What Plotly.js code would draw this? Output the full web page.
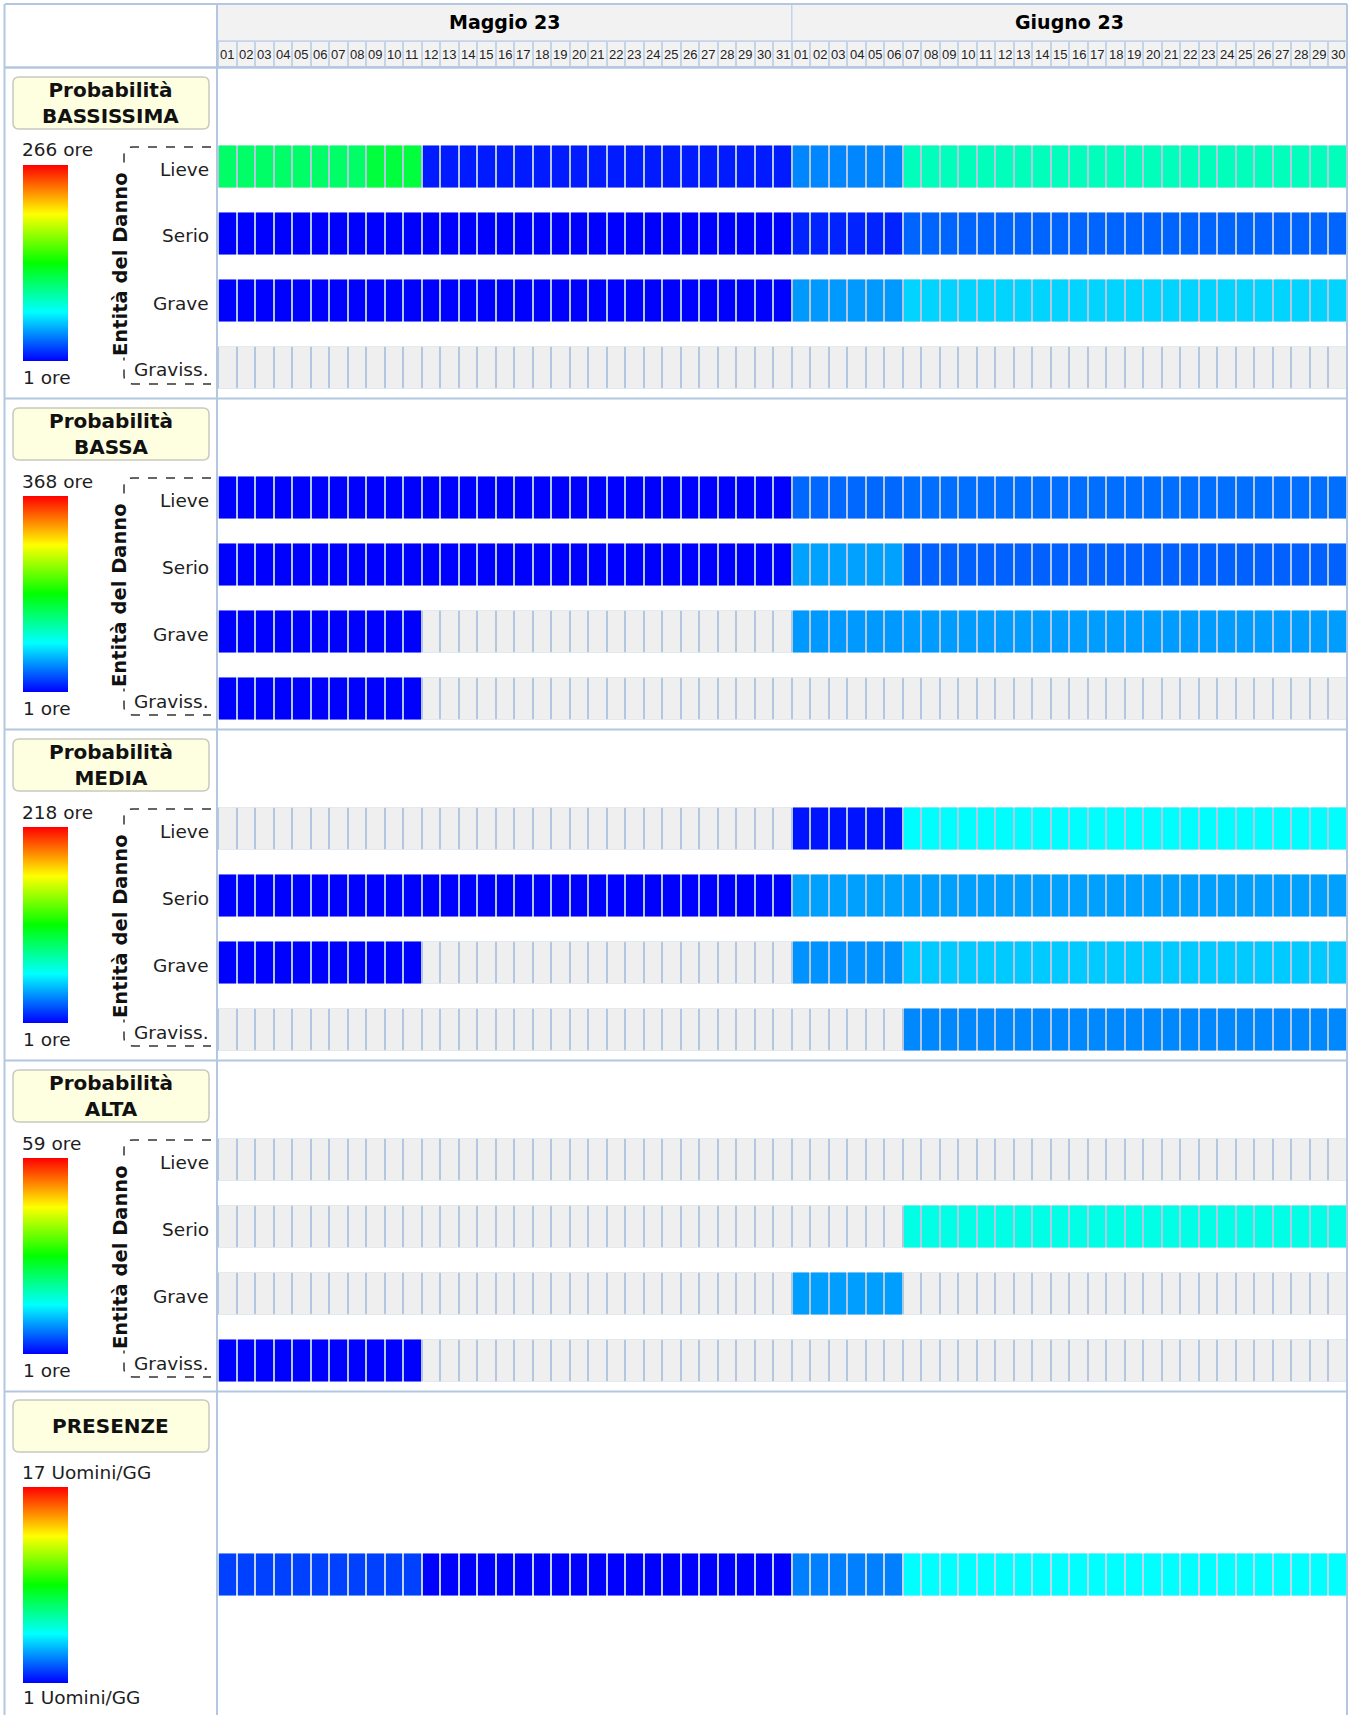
<!DOCTYPE html>
<html><head><meta charset="utf-8">
<script src="https://cdn.plot.ly/plotly-3.0.1.min.js"></script>
<style>html,body{margin:0;padding:0;background:#fff;} #chart{width:1357px;height:1715px;}</style>
</head><body><div id="chart"></div>
<script>
// ---------------- DATA ----------------
const months = ['Maggio 23', 'Giugno 23'];
const mayDays = ['01','02','03','04','05','06','07','08','09','10','11','12','13','14','15','16','17','18','19','20','21','22','23','24','25','26','27','28','29','30','31'];
const junDays = ['01','02','03','04','05','06','07','08','09','10','11','12','13','14','15','16','17','18','19','20','21','22','23','24','25','26','27','28','29','30'];
const damageLevels = ['Lieve', 'Serio', 'Grave', 'Graviss.'];
const damageAxisTitle = 'Entità del Danno';
const sectionTitles = ['Probabilità<br>BASSISSIMA', 'Probabilità<br>BASSA', 'Probabilità<br>MEDIA', 'Probabilità<br>ALTA'];
const sectionMax = [266, 368, 218, 59];
const sectionMin = [1, 1, 1, 1];
const sectionUnit = 'ore';
const presenzeTitle = 'PRESENZE';
const presenzeMax = 17;
const presenzeMin = 1;
const presenzeUnit = 'Uomini/GG';
const _ = null;

// hours per day (May 1..31, June 1..30); null = no value
const bassissima_lieve = [107,107,107,107,107,107,107,107,118,118,118,
  8,8,8,8,8,8,8,8,8,8, 8,8,8,8,8,8,8,8,8,8,
  36,36,36,36,36,36,
  85,85,85,85,85,85,85,85,85,85,85,85, 85,85,85,85,85,85,85,85,85,85,85,85];
const bassissima_serio = [1,1,1,1,1,1,1,1,1,1,1,
  1,1,1,1,1,1,1,1,1,1, 1,1,1,1,1,1,1,1,1,1,
  10,10,10,10,10,10,
  27,27,27,27,27,27,27,27,27,27,27,27, 27,27,27,27,27,27,27,27,27,27,27,27];
const bassissima_grave = [1,1,1,1,1,1,1,1,1,1,1,
  1,1,1,1,1,1,1,1,1,1, 1,1,1,1,1,1,1,1,1,1,
  41,41,41,41,41,41,
  56,56,56,56,56,56,56,56,56,56,56,56, 56,56,56,56,56,56,56,56,56,56,56,56];
const bassissima_graviss = [_,_,_,_,_,_,_,_,_,_,_,
  _,_,_,_,_,_,_,_,_,_, _,_,_,_,_,_,_,_,_,_,
  _,_,_,_,_,_,
  _,_,_,_,_,_,_,_,_,_,_,_, _,_,_,_,_,_,_,_,_,_,_,_];

const bassa_lieve = [1,1,1,1,1,1,1,1,1,1,1,
  1,1,1,1,1,1,1,1,1,1, 1,1,1,1,1,1,1,1,1,1,
  38,38,38,38,38,38,
  41,41,41,41,41,41,41,41,41,41,41,41, 41,41,41,41,41,41,41,41,41,41,41,41];
const bassa_serio = [1,1,1,1,1,1,1,1,1,1,1,
  1,1,1,1,1,1,1,1,1,1, 1,1,1,1,1,1,1,1,1,1,
  59,59,59,59,59,59,
  36,36,36,36,36,36,36,36,36,36,36,36, 36,36,36,36,36,36,36,36,36,36,36,36];
const bassa_grave = [1,1,1,1,1,1,1,1,1,1,1,
  _,_,_,_,_,_,_,_,_,_, _,_,_,_,_,_,_,_,_,_,
  56,56,56,56,56,56,
  57,57,57,57,57,57,57,57,57,57,57,57, 57,57,57,57,57,57,57,57,57,57,57,57];
const bassa_graviss = [1,1,1,1,1,1,1,1,1,1,1,
  _,_,_,_,_,_,_,_,_,_, _,_,_,_,_,_,_,_,_,_,
  _,_,_,_,_,_,
  _,_,_,_,_,_,_,_,_,_,_,_, _,_,_,_,_,_,_,_,_,_,_,_];

const media_lieve = [_,_,_,_,_,_,_,_,_,_,_,
  _,_,_,_,_,_,_,_,_,_, _,_,_,_,_,_,_,_,_,_,
  5,5,5,5,5,5,
  55,55,55,55,55,55,55,55,55,55,55,55, 55,55,55,55,55,55,55,55,55,55,55,55];
const media_serio = [1,1,1,1,1,1,1,1,1,1,1,
  1,1,1,1,1,1,1,1,1,1, 1,1,1,1,1,1,1,1,1,1,
  35,35,35,35,35,35,
  35,35,35,35,35,35,35,35,35,35,35,35, 35,35,35,35,35,35,35,35,35,35,35,35];
const media_grave = [1,1,1,1,1,1,1,1,1,1,1,
  _,_,_,_,_,_,_,_,_,_, _,_,_,_,_,_,_,_,_,_,
  32,32,32,32,32,32,
  44,44,44,44,44,44,44,44,44,44,44,44, 44,44,44,44,44,44,44,44,44,44,44,44];
const media_graviss = [_,_,_,_,_,_,_,_,_,_,_,
  _,_,_,_,_,_,_,_,_,_, _,_,_,_,_,_,_,_,_,_,
  _,_,_,_,_,_,
  30,30,30,30,30,30,30,30,30,30,30,30, 30,30,30,30,30,30,30,30,30,30,30,30];

const alta_lieve = [_,_,_,_,_,_,_,_,_,_,_,
  _,_,_,_,_,_,_,_,_,_, _,_,_,_,_,_,_,_,_,_,
  _,_,_,_,_,_,
  _,_,_,_,_,_,_,_,_,_,_,_, _,_,_,_,_,_,_,_,_,_,_,_];
const alta_serio = [_,_,_,_,_,_,_,_,_,_,_,
  _,_,_,_,_,_,_,_,_,_, _,_,_,_,_,_,_,_,_,_,
  _,_,_,_,_,_,
  17,17,17,17,17,17,17,17,17,17,17,17, 17,17,17,17,17,17,17,17,17,17,17,17];
const alta_grave = [_,_,_,_,_,_,_,_,_,_,_,
  _,_,_,_,_,_,_,_,_,_, _,_,_,_,_,_,_,_,_,_,
  10,10,10,10,10,10,
  _,_,_,_,_,_,_,_,_,_,_,_, _,_,_,_,_,_,_,_,_,_,_,_];
const alta_graviss = [1,1,1,1,1,1,1,1,1,1,1,
  _,_,_,_,_,_,_,_,_,_, _,_,_,_,_,_,_,_,_,_,
  _,_,_,_,_,_,
  _,_,_,_,_,_,_,_,_,_,_,_, _,_,_,_,_,_,_,_,_,_,_,_];

// workers per day
const presenze = [2,2,2,2,2,2,2,2,2,2,2,
  1,1,1,1,1,1,1,1,1,1, 1,1,1,1,1,1,1,1,1,1,
  3,3,3,3,3,3,
  5,5,5,5,5,5,5,5,5,5,5,5, 5,5,5,5,5,5,5,5,5,5,5,5];

// ---------------- DRAWING ----------------
const W = 1357, H = 1715;
const px = x => x / W;
const py = y => 1 - y / H;
const days = mayDays.concat(junDays);
const idx = days.map((d, i) => i);
const jet = [[0,'#0000ff'],[0.25,'#00ffff'],[0.5,'#00ff00'],[0.75,'#ffff00'],[1,'#ff0000']];
const BORDER = '#b4c7e0';
const GREY = '#efefef';
const F = 'DejaVu Sans, Verdana, sans-serif';
const FN = 'Liberation Sans Narrow, Arial Narrow, Liberation Sans, sans-serif';
const GAP = 2;

const sections = [
  [bassissima_lieve, bassissima_serio, bassissima_grave, bassissima_graviss],
  [bassa_lieve, bassa_serio, bassa_grave, bassa_graviss],
  [media_lieve, media_serio, media_grave, media_graviss],
  [alta_lieve, alta_serio, alta_grave, alta_graviss]
];

const traces = [], shapes = [], annotations = [];
const layout = {
  width: W, height: H,
  margin: {l: 0, r: 0, t: 0, b: 0, pad: 0},
  paper_bgcolor: '#ffffff', plot_bgcolor: 'rgba(0,0,0,0)',
  showlegend: false,
  xaxis: {domain: [px(218), px(1347)], range: [-0.5, days.length - 0.5], visible: false, fixedrange: true, anchor: 'y'}
};

function solid(c) { return [[0, c], [1, c]]; }
function roundRect(x0, y0, x1, y1, r) {
  const P = (x, y) => px(x) + ',' + py(y);
  return 'M' + P(x0 + r, y0) + ' L' + P(x1 - r, y0) + ' Q' + P(x1, y0) + ' ' + P(x1, y0 + r) +
    ' L' + P(x1, y1 - r) + ' Q' + P(x1, y1) + ' ' + P(x1 - r, y1) +
    ' L' + P(x0 + r, y1) + ' Q' + P(x0, y1) + ' ' + P(x0, y1 - r) +
    ' L' + P(x0, y0 + r) + ' Q' + P(x0, y0) + ' ' + P(x0 + r, y0) + ' Z';
}
function pline(x0, y0, x1, y1, w, c) {
  shapes.push({type: 'line', xref: 'paper', yref: 'paper', x0: px(x0), x1: px(x1), y0: py(y0), y1: py(y1),
    line: {color: c || BORDER, width: w || 2}, layer: 'above'});
}
function ann(text, x, y, opts) {
  annotations.push(Object.assign({text: text, xref: 'paper', yref: 'paper', x: px(x), y: py(y),
    showarrow: false, font: {family: F, size: 18.5, color: '#1e1e1e'}, xanchor: 'center', yanchor: 'middle'}, opts || {}));
}

// ---- header ----
shapes.push({type: 'rect', xref: 'paper', yref: 'paper', x0: px(218), x1: px(1347), y0: py(41), y1: py(5),
  fillcolor: '#f2f2f2', line: {width: 0}, layer: 'below'});
layout.yaxis = {domain: [py(67), py(41)], range: [0.5, -0.5], visible: false, fixedrange: true, anchor: 'x'};
const oneRow = [days.map(() => 1)];
traces.push({type: 'heatmap', x: idx, y: [0], z: oneRow, colorscale: solid('#c3d3e8'), showscale: false, xaxis: 'x', yaxis: 'y', hoverinfo: 'skip'});
traces.push({type: 'heatmap', x: idx, y: [0], z: oneRow, colorscale: solid('#f2f2f2'), showscale: false, xgap: 2, ygap: 2, xaxis: 'x', yaxis: 'y', hoverinfo: 'skip'});
days.forEach((d, i) => {
  annotations.push({text: d, xref: 'x', yref: 'paper', x: i, y: py(55), showarrow: false,
    font: {family: FN, size: 13, color: '#222'}, xanchor: 'center', yanchor: 'middle'});
});
annotations.push({text: '<b>' + months[0] + '</b>', xref: 'x', yref: 'paper', x: (mayDays.length - 1) / 2, y: py(22),
  showarrow: false, font: {family: F, size: 19, color: '#000'}, xanchor: 'center', yanchor: 'middle'});
annotations.push({text: '<b>' + months[1] + '</b>', xref: 'x', yref: 'paper', x: mayDays.length + (junDays.length - 1) / 2, y: py(22),
  showarrow: false, font: {family: F, size: 19, color: '#000'}, xanchor: 'center', yanchor: 'middle'});
shapes.push({type: 'line', xref: 'x', yref: 'paper', x0: mayDays.length - 0.5, x1: mayDays.length - 0.5, y0: py(5), y1: py(41),
  line: {color: '#c3d3e8', width: 1.5}, layer: 'above'});

// frame lines
pline(5, 4, 1347, 4, 2);
pline(4.5, 4, 4.5, H, 2);
pline(1347, 4, 1347, H, 2);
pline(217, 4, 217, H, 2);
pline(5, 67.5, 1347, 67.5, 2.5);
pline(218, 41, 1347, 41, 1.5, '#c3d3e8');

// ---- probability sections ----
sections.forEach((rows, k) => {
  const T = 68 + 331 * k;
  const ya = 'y' + (k + 2);
  layout['yaxis' + (k + 2)] = {domain: [py(T + 333.5), py(T + 65.5)], range: [rows.length - 0.5, -0.5], visible: false, fixedrange: true, anchor: 'x'};
  const yi = rows.map((r, i) => i);
  const ones = rows.map(() => days.map(() => 1));
  traces.push({type: 'heatmap', x: idx, y: yi, z: ones, colorscale: solid(BORDER), showscale: false, ygap: 25, xaxis: 'x', yaxis: ya, hoverinfo: 'skip'});
  traces.push({type: 'heatmap', x: idx, y: yi, z: ones, colorscale: solid(GREY), showscale: false, xgap: GAP, ygap: 25, xaxis: 'x', yaxis: ya, hoverinfo: 'skip'});
  traces.push({type: 'heatmap', x: idx, y: yi, z: rows, zmin: sectionMin[k], zmax: sectionMax[k], colorscale: jet,
    xgap: GAP, ygap: 25, xaxis: 'x', yaxis: ya, hoverongaps: false,
    colorbar: {x: px(23), xanchor: 'left', xpad: 0, y: py(T + 97), yanchor: 'top', ypad: 0,
      len: 196, lenmode: 'pixels', thickness: 45, thicknessmode: 'pixels',
      outlinewidth: 0, borderwidth: 0, showticklabels: false, ticks: ''}});
  // separator
  if (k > 0) pline(5, T - 0.5, 1347, T - 0.5, 2);
  // title box
  shapes.push({type: 'path', xref: 'paper', yref: 'paper', path: roundRect(13, T + 9, 209, T + 61, 6),
    fillcolor: '#fefee1', line: {color: '#c9c9c0', width: 1.5}, layer: 'above'});
  ann('<b>' + sectionTitles[k] + '</b>', 111, T + 35, {font: {family: F, size: 20, color: '#111'}});
  // colour-bar labels
  ann(sectionMax[k] + ' ' + sectionUnit, 20, T + 82, {xanchor: 'left'});
  ann(sectionMin[k] + ' ' + sectionUnit, 21, T + 309, {xanchor: 'left'});
  // dashed bracket
  const P = (x, y) => px(x) + ',' + py(y);
  shapes.push({type: 'path', xref: 'paper', yref: 'paper',
    path: 'M' + P(211, T + 79) + ' L' + P(133, T + 79) + ' Q' + P(124, T + 79) + ' ' + P(124, T + 88) +
      ' L' + P(124, T + 307) + ' Q' + P(124, T + 316) + ' ' + P(133, T + 316) + ' L' + P(211, T + 316),
    line: {color: '#333', width: 1.5, dash: 'dash'}, layer: 'above'});
  ann('<b>' + damageAxisTitle + '</b>', 120, T + 196, {textangle: -90, bgcolor: '#ffffff', font: {family: F, size: 19.5, color: '#111'}});
  damageLevels.forEach((lab, i) => {
    ann(lab, 211, T + 101 + 67 * i, {xanchor: 'right', bgcolor: '#ffffff'});
  });
});

// ---- presenze ----
const T4 = 68 + 331 * 4;
pline(5, T4 - 0.5, 1347, T4 - 0.5, 2);
layout.yaxis6 = {domain: [py(T4 + 216.5), py(T4 + 149.5)], range: [0.5, -0.5], visible: false, fixedrange: true, anchor: 'x'};
traces.push({type: 'heatmap', x: idx, y: [0], z: oneRow, colorscale: solid('#c3d3e8'), showscale: false, ygap: 25, xaxis: 'x', yaxis: 'y6', hoverinfo: 'skip'});
traces.push({type: 'heatmap', x: idx, y: [0], z: [presenze], zmin: presenzeMin, zmax: presenzeMax, colorscale: jet,
  xgap: GAP, ygap: 25, xaxis: 'x', yaxis: 'y6', hoverongaps: false,
  colorbar: {x: px(23), xanchor: 'left', xpad: 0, y: py(T4 + 95), yanchor: 'top', ypad: 0,
    len: 196, lenmode: 'pixels', thickness: 45, thicknessmode: 'pixels',
    outlinewidth: 0, borderwidth: 0, showticklabels: false, ticks: ''}});
shapes.push({type: 'path', xref: 'paper', yref: 'paper', path: roundRect(13, T4 + 8, 209, T4 + 60, 6),
  fillcolor: '#fefee1', line: {color: '#c9c9c0', width: 1.5}, layer: 'above'});
ann('<b>' + presenzeTitle + '</b>', 111, T4 + 34, {font: {family: F, size: 20, color: '#111'}});
ann(presenzeMax + ' ' + presenzeUnit, 20, T4 + 80, {xanchor: 'left'});
ann(presenzeMin + ' ' + presenzeUnit, 21, T4 + 305, {xanchor: 'left'});

layout.shapes = shapes;
layout.annotations = annotations;
Plotly.newPlot('chart', traces, layout, {displayModeBar: false, staticPlot: true});
</script>
</body></html>
